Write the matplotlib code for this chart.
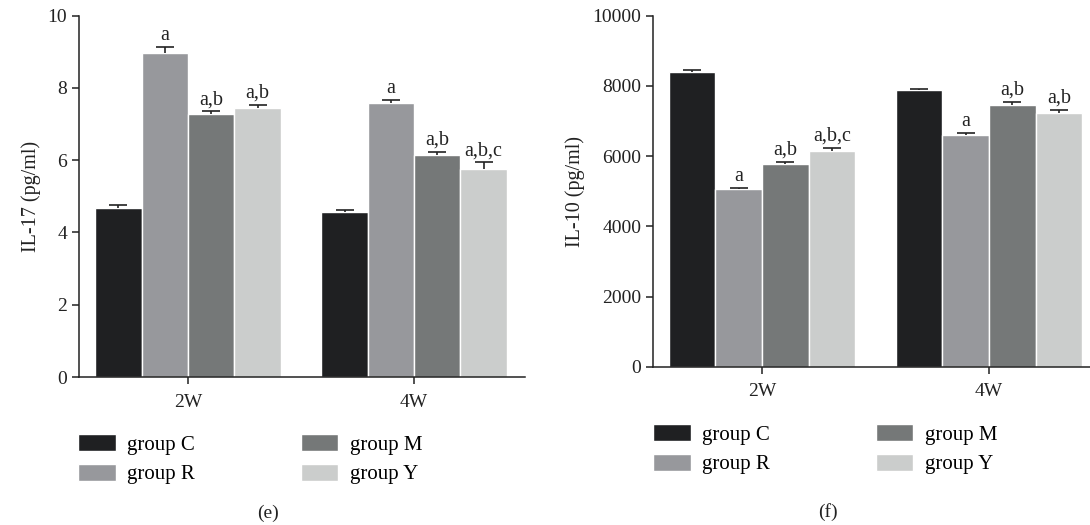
import numpy as np
import matplotlib.pyplot as plt

plt.rcParams['font.family'] = ['Liberation Serif', 'DejaVu Serif']

# data
semanas = ['2W', '4W']
grupos = ['group C', 'group R', 'group M', 'group Y']
cores = ['#1f2022', '#97989c', '#757878', '#cbcdcc']

il17 = [[4.67, 4.57], [8.96, 7.57], [7.27, 6.15], [7.45, 5.75]]
il17_err = [[0.09, 0.04], [0.18, 0.10], [0.08, 0.09], [0.09, 0.19]]
il17_letras = [['', ''], ['a', 'a'], ['a,b', 'a,b'], ['a,b', 'a,b,c']]

il10 = [[8395, 7873], [5052, 6590], [5783, 7455], [6144, 7217]]
il10_err = [[57, 28], [48, 77], [57, 85], [95, 95]]
il10_letras = [['', ''], ['a', 'a'], ['a,b', 'a,b'], ['a,b,c', 'a,b']]

passo = 0.205


def painel(ax, valores, erros, letras, ylim, yticks, ylabel, xlim):
    x = np.arange(len(semanas))
    barras = []
    for i, g in enumerate(grupos):
        pos = x + (i - 1.5) * passo
        b = ax.bar(pos, valores[i], width=passo, color=cores[i],
                   edgecolor='white', linewidth=1.0, label=g, zorder=2)
        barras.append(b)
        eb = ax.errorbar(pos, valores[i], yerr=[np.zeros(len(x)), erros[i]],
                         fmt='none', ecolor='#222222', elinewidth=1.2,
                         capsize=6.5, capthick=1.2, zorder=3)
        eb[1][0].remove()  # so a tampa de cima
        for j in range(len(x)):
            if letras[i][j]:
                ax.annotate(letras[i][j], (pos[j], valores[i][j] + erros[i][j]),
                            xytext=(0, 1.5), textcoords='offset points',
                            ha='center', va='bottom', fontsize=14.5,
                            color='#222222')
    ax.set_xlim(*xlim)
    ax.set_ylim(*ylim)
    ax.set_yticks(yticks)
    ax.set_xticks(x)
    ax.set_xticklabels(semanas)
    ax.set_ylabel(ylabel, fontsize=14.5, color='#222222', labelpad=5)
    for s in ['top', 'right']:
        ax.spines[s].set_visible(False)
    for s in ['left', 'bottom']:
        ax.spines[s].set_linewidth(1.1)
        ax.spines[s].set_color('#222222')
    ax.tick_params(axis='both', direction='out', length=5, width=1.1,
                   color='#222222', labelsize=14, labelcolor='#222222')
    ax.tick_params(axis='x', pad=7)
    return barras


fig = plt.figure(figsize=(10.9, 5.25), dpi=100)

ax1 = fig.add_axes([0.0725, 0.2819, 0.4092, 0.6882])
b1 = painel(ax1, il17, il17_err, il17_letras, (0, 10), [0, 2, 4, 6, 8, 10],
            'IL-17 (pg/ml)', (-0.482, 1.491))

ax2 = fig.add_axes([0.5991, 0.3015, 0.4009, 0.6686])
b2 = painel(ax2, il10, il10_err, il10_letras, (0, 10000),
            [0, 2000, 4000, 6000, 8000, 10000], 'IL-10 (pg/ml)', (-0.48, 1.445))

opts = dict(ncol=2, frameon=False, fontsize=15, handlelength=1.8,
            handleheight=0.85, handletextpad=0.55, columnspacing=5.1,
            labelspacing=0.45, borderpad=0, borderaxespad=0, loc='upper left')
fig.legend(b1, grupos, bbox_to_anchor=(78 / 1090, 1 - 434 / 525), **opts)
fig.legend(b2, grupos, bbox_to_anchor=(653 / 1090, 1 - 424 / 525), **opts)

fig.text(268 / 1090, 1 - 513 / 525, '(e)', ha='center', va='center',
         fontsize=14, color='#222222')
fig.text(828 / 1090, 1 - 512 / 525, '(f)', ha='center', va='center',
         fontsize=14, color='#222222')

fig.savefig('out.png', dpi=100)
